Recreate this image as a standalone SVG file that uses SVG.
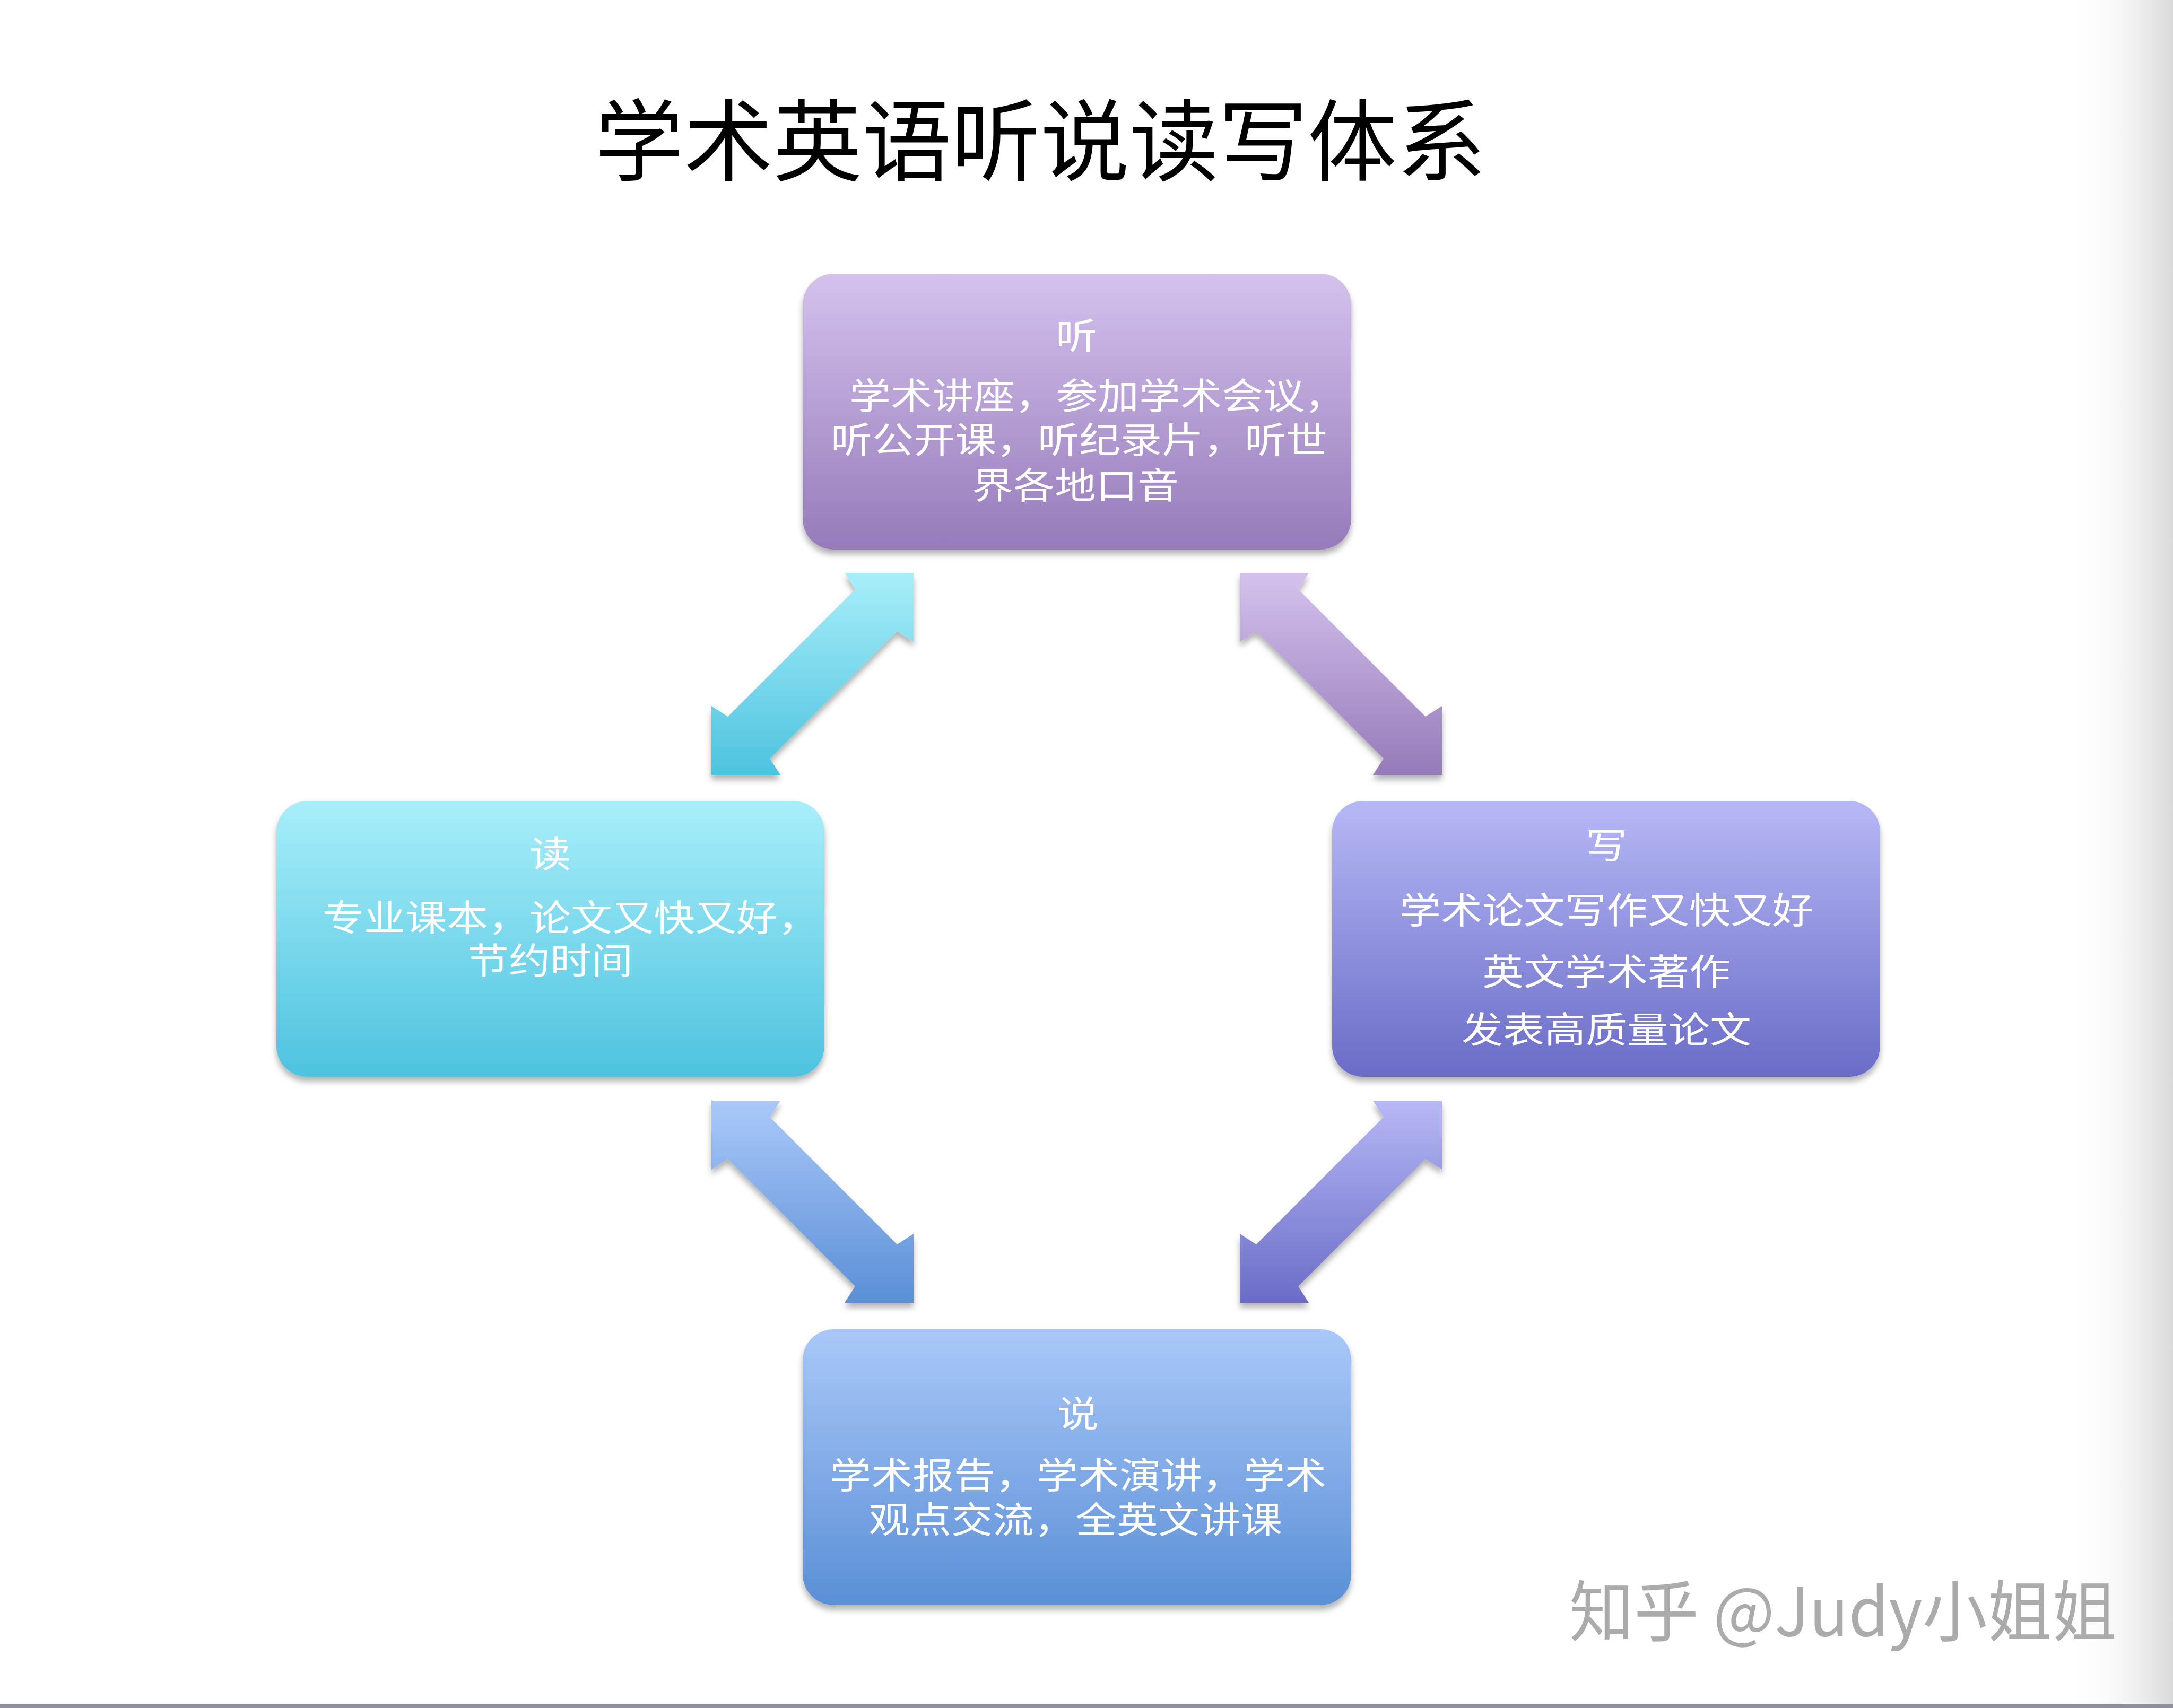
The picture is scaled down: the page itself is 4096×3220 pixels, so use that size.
<svg xmlns="http://www.w3.org/2000/svg" width="4096" height="3220" viewBox="0 0 4096 3220">
<defs>
<style>
.title{font-family:"Noto Sans CJK SC","Liberation Serif",serif;font-size:168px;fill:#000;}
.bt{font-family:"Noto Sans CJK SC","Liberation Sans",sans-serif;font-size:68px;fill:#fff;}
.mid{text-anchor:middle;}
.wm{font-family:"Noto Sans CJK SC","Liberation Sans",sans-serif;font-size:125px;fill:#ababab;}
</style>
<filter id="sh" x="-10%" y="-10%" width="120%" height="125%">
<feDropShadow dx="0" dy="9" stdDeviation="6" flood-color="#000" flood-opacity="0.3"/>
</filter>
<linearGradient id="gTing" x1="0" y1="0" x2="0" y2="1"><stop offset="0" stop-color="#d4c2ed"/><stop offset="1" stop-color="#967aba"/></linearGradient>
<linearGradient id="gDu" x1="0" y1="0" x2="0" y2="1"><stop offset="0" stop-color="#a8eefa"/><stop offset="1" stop-color="#4dc3df"/></linearGradient>
<linearGradient id="gXie" x1="0" y1="0" x2="0" y2="1"><stop offset="0" stop-color="#b6b8f6"/><stop offset="1" stop-color="#6a6cc7"/></linearGradient>
<linearGradient id="gShuo" x1="0" y1="0" x2="0" y2="1"><stop offset="0" stop-color="#aac8f9"/><stop offset="1" stop-color="#5a8fd6"/></linearGradient>
<linearGradient id="gEdge" x1="0" y1="0" x2="1" y2="0"><stop offset="0" stop-color="#ffffff" stop-opacity="0"/><stop offset="1" stop-color="#d9d9d9"/></linearGradient>
</defs>
<rect x="0" y="0" width="4096" height="3220" fill="#ffffff"/>
<rect x="3900" y="0" width="196" height="3214" fill="url(#gEdge)"/>
<rect x="0" y="3213" width="4096" height="7" fill="#8e8ea2"/>

<text class="title mid" x="1961" y="328">学术英语听说读写体系</text>

<g id="connectors" filter="url(#sh)">
<polygon fill="url(#gDu)" points="1722,1080 1722,1210 1691,1190 1451,1430 1471,1461 1341,1461 1341,1331 1372,1351 1612,1111 1592,1080"/>
<polygon fill="url(#gTing)" points="2337,1080 2337,1210 2368,1190 2608,1430 2588,1461 2718,1461 2718,1331 2687,1351 2447,1111 2467,1080"/>
<polygon fill="url(#gShuo)" points="1722,2456 1722,2326 1691,2346 1451,2106 1471,2075 1341,2075 1341,2205 1372,2185 1612,2425 1592,2456"/>
<polygon fill="url(#gXie)" points="2337,2456 2337,2326 2368,2346 2608,2106 2588,2075 2718,2075 2718,2205 2687,2185 2447,2425 2467,2456"/>
</g>

<g id="node-ting">
<rect x="1513" y="516" width="1034" height="520" rx="58" fill="url(#gTing)" filter="url(#sh)"/>
<text class="bt mid" x="2029" y="658" textLength="78" lengthAdjust="spacingAndGlyphs">听</text>
<text class="bt" x="1601" y="771" textLength="936" lengthAdjust="spacingAndGlyphs">学术讲座，参加学术会议，</text>
<text class="bt" x="1566" y="854" textLength="936" lengthAdjust="spacingAndGlyphs">听公开课，听纪录片，听世</text>
<text class="bt mid" x="2027" y="940" textLength="390" lengthAdjust="spacingAndGlyphs">界各地口音</text>
</g>

<g id="node-du">
<rect x="521" y="1510" width="1033" height="520" rx="58" fill="url(#gDu)" filter="url(#sh)"/>
<text class="bt mid" x="1037" y="1635" textLength="78" lengthAdjust="spacingAndGlyphs">读</text>
<text class="bt" x="608" y="1755" textLength="936" lengthAdjust="spacingAndGlyphs">专业课本，论文又快又好，</text>
<text class="bt mid" x="1037" y="1836" textLength="312" lengthAdjust="spacingAndGlyphs">节约时间</text>
</g>

<g id="node-xie">
<rect x="2511" y="1510" width="1033" height="520" rx="58" fill="url(#gXie)" filter="url(#sh)"/>
<text class="bt mid" x="3028" y="1619" textLength="78" lengthAdjust="spacingAndGlyphs">写</text>
<text class="bt mid" x="3028" y="1741" textLength="780" lengthAdjust="spacingAndGlyphs">学术论文写作又快又好</text>
<text class="bt mid" x="3028" y="1857" textLength="468" lengthAdjust="spacingAndGlyphs">英文学术著作</text>
<text class="bt mid" x="3028" y="1966" textLength="546" lengthAdjust="spacingAndGlyphs">发表高质量论文</text>
</g>

<g id="node-shuo">
<rect x="1513" y="2506" width="1034" height="520" rx="58" fill="url(#gShuo)" filter="url(#sh)"/>
<text class="bt mid" x="2032" y="2690" textLength="78" lengthAdjust="spacingAndGlyphs">说</text>
<text class="bt mid" x="2032" y="2806" textLength="936" lengthAdjust="spacingAndGlyphs">学术报告，学术演讲，学术</text>
<text class="bt mid" x="2027" y="2890" textLength="780" lengthAdjust="spacingAndGlyphs">观点交流，全英文讲课</text>
</g>

<text class="wm" x="2958" y="3084" textLength="1032" lengthAdjust="spacingAndGlyphs">知乎 @Judy小姐姐</text>
</svg>
